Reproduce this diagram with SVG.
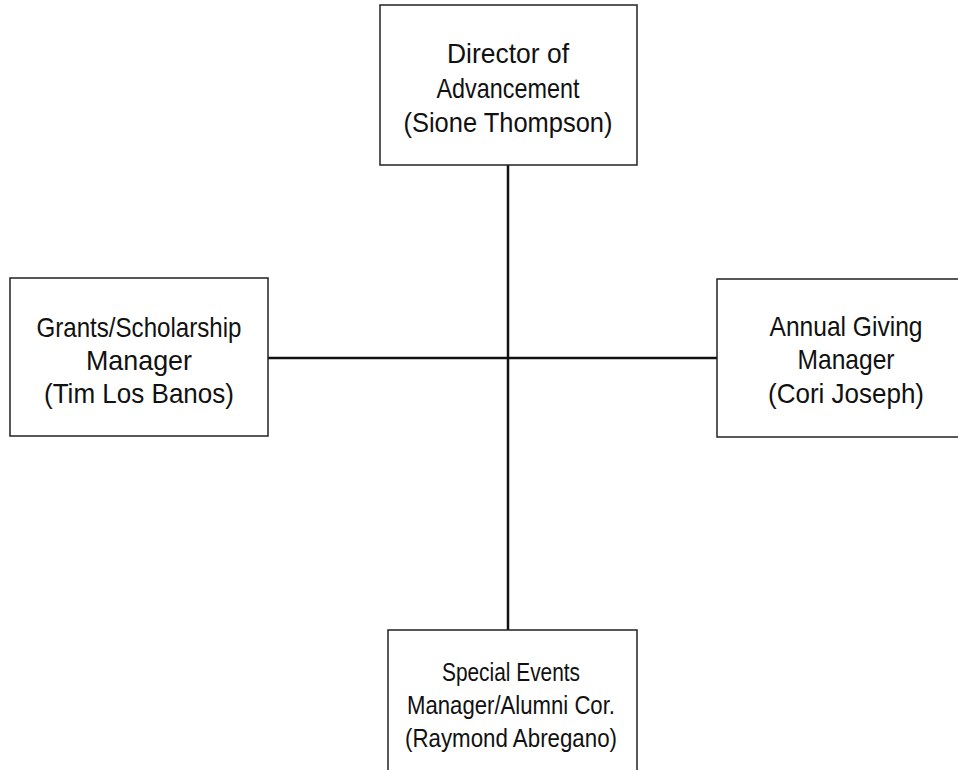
<svg xmlns="http://www.w3.org/2000/svg" width="958" height="770" viewBox="0 0 958 770">
<style>
.box{fill:#fff;stroke:#222;stroke-width:1.5}
.t{font-family:"Liberation Sans",Arial,sans-serif;font-size:28px;fill:#111;text-anchor:middle}
.s{font-size:26px}
.conn{stroke:#111;stroke-width:2.5;fill:none}
</style>
<rect width="958" height="770" fill="#fff"/>
<g id="connectors">
<line class="conn" x1="508" y1="165" x2="508" y2="630"/>
<line class="conn" x1="268" y1="358" x2="717" y2="358"/>
</g>
<g id="director">
<rect class="box" x="380" y="5" width="257" height="160"/>
<text class="t" x="508" y="63" textLength="122" lengthAdjust="spacingAndGlyphs">Director of</text>
<text class="t" x="508" y="98" textLength="143" lengthAdjust="spacingAndGlyphs">Advancement</text>
<text class="t" x="508" y="132" textLength="209" lengthAdjust="spacingAndGlyphs">(Sione Thompson)</text>
</g>
<g id="grants">
<rect class="box" x="10" y="278" width="258" height="158"/>
<text class="t" x="139" y="337" textLength="205" lengthAdjust="spacingAndGlyphs">Grants/Scholarship</text>
<text class="t" x="139" y="370" textLength="106" lengthAdjust="spacingAndGlyphs">Manager</text>
<text class="t" x="139" y="403" textLength="190" lengthAdjust="spacingAndGlyphs">(Tim Los Banos)</text>
</g>
<g id="annual">
<rect class="box" x="717" y="279" width="260" height="158"/>
<text class="t" x="846" y="336" textLength="153" lengthAdjust="spacingAndGlyphs">Annual Giving</text>
<text class="t" x="846" y="369" textLength="97" lengthAdjust="spacingAndGlyphs">Manager</text>
<text class="t" x="846" y="403" textLength="156" lengthAdjust="spacingAndGlyphs">(Cori Joseph)</text>
</g>
<g id="special">
<rect class="box" x="388" y="630" width="249" height="160"/>
<text class="t s" x="511" y="681" textLength="138" lengthAdjust="spacingAndGlyphs">Special Events</text>
<text class="t s" x="511" y="714" textLength="208" lengthAdjust="spacingAndGlyphs">Manager/Alumni Cor.</text>
<text class="t s" x="511" y="747" textLength="212" lengthAdjust="spacingAndGlyphs">(Raymond Abregano)</text>
</g>
</svg>
